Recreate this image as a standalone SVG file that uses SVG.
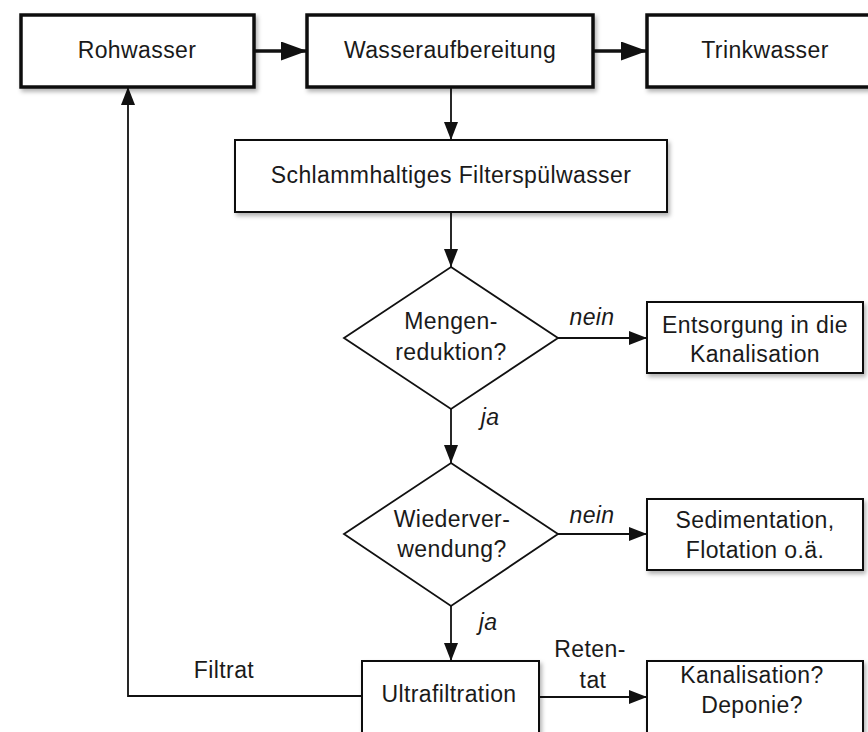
<svg xmlns="http://www.w3.org/2000/svg" width="868" height="732" viewBox="0 0 868 732">
<defs>
<filter id="sh" x="-10%" y="-10%" width="130%" height="140%">
<feDropShadow dx="2" dy="3" stdDeviation="2" flood-color="#000" flood-opacity="0.3"/>
</filter>
<marker id="ah" markerUnits="userSpaceOnUse" markerWidth="18" markerHeight="14" refX="18" refY="7" orient="auto">
<path d="M0,0 L18,7 L0,14 z" fill="#111"/>
</marker>
<marker id="ahb" markerUnits="userSpaceOnUse" markerWidth="26" markerHeight="19" refX="26" refY="9.5" orient="auto">
<path d="M0,0 L26,9.5 L0,19 z" fill="#111"/>
</marker>
<style>
text{font-family:"Liberation Sans",Helvetica,Arial,sans-serif;font-size:23px;letter-spacing:0.4px;fill:#1a1a1a;text-anchor:middle}
.it{font-style:italic}
.box{fill:#fff;stroke:#111;stroke-width:2;filter:url(#sh)}
.tb{fill:#fff;stroke:#111;stroke-width:3.5;filter:url(#sh)}
.dia{fill:#fff;stroke:#111;stroke-width:1.8}
.c{fill:none;stroke:#111;stroke-width:1.8;marker-end:url(#ah)}
.cb{fill:none;stroke:#111;stroke-width:3.5;marker-end:url(#ahb)}
</style>
</defs>
<rect width="868" height="732" fill="#fff"/>
<g id="connectors">
<line class="cb" x1="254" y1="51" x2="307" y2="51"/>
<line class="cb" x1="593" y1="51" x2="647" y2="51"/>
<line class="c" x1="451" y1="87" x2="451" y2="140"/>
<line class="c" x1="451" y1="212" x2="451" y2="267"/>
<line class="c" x1="558" y1="338" x2="647" y2="338"/>
<line class="c" x1="451" y1="409" x2="451" y2="463"/>
<line class="c" x1="558" y1="534" x2="647" y2="534"/>
<line class="c" x1="451" y1="606" x2="451" y2="661"/>
<line class="c" x1="539" y1="697" x2="647" y2="697"/>
<polyline class="c" points="362,696 128,696 128,87"/>
<text class="it" x="592" y="325">nein</text>
<text class="it" x="490" y="425">ja</text>
<text class="it" x="592" y="523">nein</text>
<text class="it" x="488" y="630">ja</text>
<text x="590" y="657">Reten-</text>
<text x="593" y="688">tat</text>
<text x="224" y="678">Filtrat</text>
</g>
<g id="rohwasser">
<rect class="tb" x="21" y="15" width="233" height="72"/>
<text x="137" y="58">Rohwasser</text>
</g>
<g id="wasseraufbereitung">
<rect class="tb" x="307" y="15" width="286" height="72"/>
<text x="450" y="58">Wasseraufbereitung</text>
</g>
<g id="trinkwasser">
<rect class="tb" x="647" y="15" width="236" height="72"/>
<text x="765" y="58">Trinkwasser</text>
</g>
<g id="schlamm">
<rect class="box" x="235" y="140" width="432" height="72"/>
<text x="451" y="183">Schlammhaltiges Filterspülwasser</text>
</g>
<g id="mengenreduktion">
<polygon class="dia" points="451,267 558,338 451,409 344,338"/>
<text x="451" y="329">Mengen-</text>
<text x="451" y="360">reduktion?</text>
</g>
<g id="entsorgung">
<rect class="box" x="647" y="302" width="216" height="71"/>
<text x="755" y="333">Entsorgung in die</text>
<text x="755" y="362">Kanalisation</text>
</g>
<g id="wiederverwendung">
<polygon class="dia" points="451,463 558,534 451,606 344,534"/>
<text x="452" y="527">Wiederver-</text>
<text x="452" y="557">wendung?</text>
</g>
<g id="sedimentation">
<rect class="box" x="647" y="499" width="216" height="71"/>
<text x="755" y="528">Sedimentation,</text>
<text x="755" y="558">Flotation o.ä.</text>
</g>
<g id="ultrafiltration">
<rect class="box" x="362" y="661" width="177" height="74"/>
<text x="449" y="702">Ultrafiltration</text>
</g>
<g id="kanalisation">
<rect class="box" x="647" y="661" width="216" height="74"/>
<text x="752" y="683">Kanalisation?</text>
<text x="752" y="713">Deponie?</text>
</g>
</svg>
